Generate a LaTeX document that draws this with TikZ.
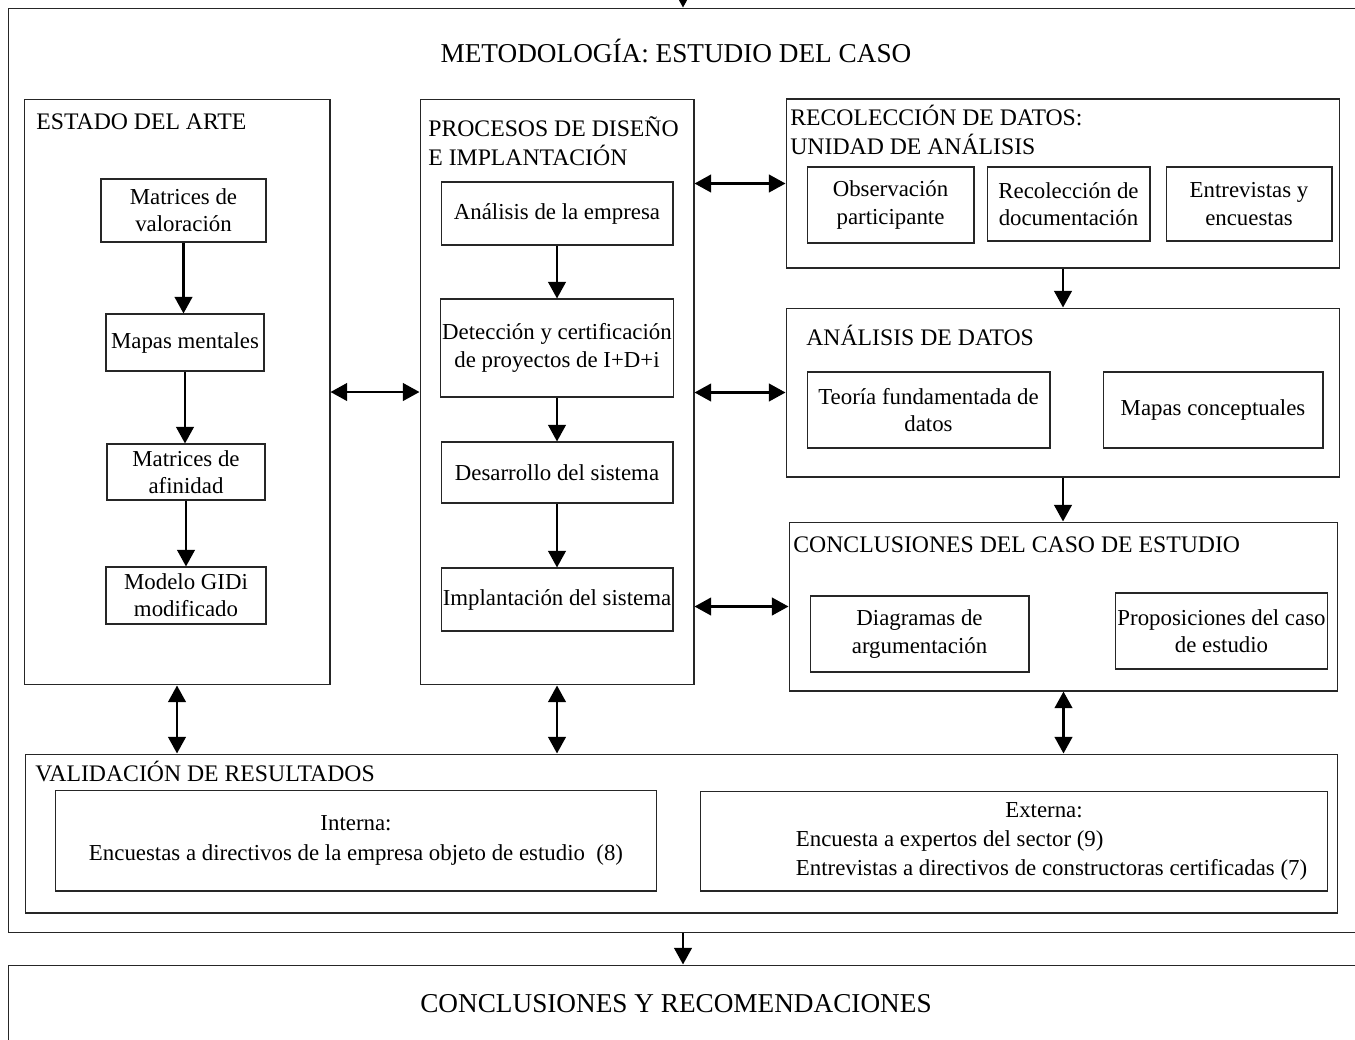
\documentclass[tikz,border=0pt]{standalone}
\usepackage{fontspec}
\setmainfont{Liberation Serif}
\usetikzlibrary{arrows.meta}
\newcommand{\cuerpo}{\fontsize{13pt}{15.5pt}\selectfont}
\newcommand{\titulo}{\fontsize{13.5pt}{16.5pt}\selectfont}
\newcommand{\titular}{\fontsize{15.5pt}{18pt}\selectfont}
\tikzset{
  caja/.style={draw=black!85, line width=0.6pt, inner sep=1pt, align=center, font=\cuerpo},
  bloque/.style={draw=black!85, line width=0.6pt, inner sep=0pt},
  rotulo/.style={inner sep=0pt, align=left, font=\titulo},
  flecha/.style={line width=1.5pt, -{Triangle[length=9.5pt,width=10pt]}},
  doble/.style={line width=1.5pt, {Triangle[length=9.5pt,width=10pt]}-{Triangle[length=9.5pt,width=10pt]}}
}

\begin{document}
\begin{tikzpicture}[x=0.02cm, y=-0.02cm]
  \clip (0,0) rectangle (1355,1039);
  % marcos grandes
  \node[bloque, minimum width=27.14cm, minimum height=18.5cm] (metodo) at (686.5,470.5) {};
  \node[bloque, minimum width=27.14cm, minimum height=1.52cm] (final) at (686.5,1003) {};
  \node[font=\titular, anchor=base] (tMetodo) at (676,62) {METODOLOGÍA: ESTUDIO DEL CASO};
  \node[font=\titular, anchor=base] (tFinal) at (676,1012) {CONCLUSIONES Y RECOMENDACIONES};
  \coordinate (entrada) at (683,-20);

  % bloques
  \node[bloque, minimum width=6.12cm, minimum height=11.72cm] (estado) at (177,392) {};
  \node[bloque, minimum width=5.48cm, minimum height=11.72cm] (procesos) at (557,392) {};
  \node[bloque, minimum width=11.08cm, minimum height=3.38cm] (recol) at (1063,183.5) {};
  \node[bloque, minimum width=11.08cm, minimum height=3.38cm] (anal) at (1063,392.5) {};
  \node[bloque, minimum width=10.98cm, minimum height=3.38cm] (concl) at (1063.5,606.5) {};
  \node[bloque, minimum width=26.26cm, minimum height=3.18cm] (valid) at (681.5,833.5) {};

  \node[rotulo, anchor=base west] (tEstado) at (36,129) {ESTADO DEL ARTE};
  \node[rotulo, anchor=north west] (tProcesos) at (428,116) {PROCESOS DE DISEÑO\\E IMPLANTACIÓN};
  \node[rotulo, anchor=north west] (tRecol) at (790,105) {RECOLECCIÓN DE DATOS:\\UNIDAD DE ANÁLISIS};
  \node[rotulo, anchor=base west] (tAnal) at (806,345) {ANÁLISIS DE DATOS};
  \node[rotulo, anchor=base west] (tConcl) at (793,552) {CONCLUSIONES DEL CASO DE ESTUDIO};
  \node[rotulo, anchor=base west] (tValid) at (35,781) {VALIDACIÓN DE RESULTADOS};

  % estado del arte
  \node[caja, minimum width=3.3cm, minimum height=1.26cm] (mval) at (183.5,210.5) {Matrices de\\valoración};
  \node[caja, minimum width=3.16cm, minimum height=1.14cm] (mmen) at (185,342.5) {Mapas mentales};
  \node[caja, minimum width=3.16cm, minimum height=1.12cm] (mafi) at (186,472) {Matrices de\\afinidad};
  \node[caja, minimum width=3.2cm, minimum height=1.14cm] (mgidi) at (186,595.5) {Modelo GIDi\\modificado};

  % procesos
  \node[caja, minimum width=4.64cm, minimum height=1.26cm] (aemp) at (557,213.5) {Análisis de la empresa};
  \node[caja, minimum width=4.64cm, minimum height=1.96cm] (detec) at (557,348) {Detección y certificación\\de proyectos de I+D+i};
  \node[caja, minimum width=4.64cm, minimum height=1.22cm] (desa) at (557,472.5) {Desarrollo del sistema};
  \node[caja, minimum width=4.64cm, minimum height=1.26cm] (impl) at (557,599.5) {Implantación del sistema};

  % recoleccion y analisis
  \node[caja, minimum width=3.34cm, minimum height=1.52cm] (obs) at (890.5,205) {Observación\\participante};
  \node[caja, minimum width=3.26cm, minimum height=1.48cm] (rdoc) at (1068.5,204) {Recolección de\\documentación};
  \node[caja, minimum width=3.32cm, minimum height=1.48cm] (entr) at (1249,204) {Entrevistas y\\encuestas};
  \node[caja, minimum width=4.86cm, minimum height=1.52cm] (teor) at (928.5,410) {Teoría fundamentada de\\datos};
  \node[caja, minimum width=4.4cm, minimum height=1.52cm] (mcon) at (1213,410) {Mapas conceptuales};
  \node[caja, minimum width=4.38cm, minimum height=1.52cm] (diag) at (919.5,634) {Diagramas de\\argumentación};
  \node[caja, minimum width=4.22cm, minimum height=1.52cm] (prop) at (1221.5,631) {Proposiciones del caso\\de estudio};

  % validacion
  \node[caja, minimum width=12.04cm, minimum height=2.02cm] (interna) at (356,840.5)
    {Interna:\\[2pt]Encuestas a directivos de la empresa objeto de estudio\ \ (8)};
  \node[caja, minimum width=12.56cm, minimum height=2cm] (externa) at (1014,841)
    {\begin{tabular}{@{\hspace{1.5cm}}l@{}}
      \multicolumn{1}{@{\hspace{1.2cm}}c@{}}{Externa:}\\[1pt]
      Encuesta a expertos del sector (9)\\[1pt]
      Entrevistas a directivos de constructoras certificadas (7)
    \end{tabular}};

  % conectores
  \draw[flecha] (entrada) -- (entrada |- metodo.north);
  \draw[flecha] (entrada |- metodo.south) -- (entrada |- final.north);
  \draw[flecha] (mval.south) -- (mval.south |- mmen.north);
  \draw[flecha] (mmen.south) -- (mmen.south |- mafi.north);
  \draw[flecha] (mafi.south) -- (mafi.south |- mgidi.north);
  \draw[flecha] (aemp) -- (detec);
  \draw[flecha] (detec) -- (desa);
  \draw[flecha] (desa) -- (impl);
  \draw[flecha] (recol) -- (anal);
  \draw[flecha] (anal.south) -- (anal.south |- concl.north);
  \draw[doble] (estado) -- (procesos);
  \draw[doble] (procesos.east |- recol.west) -- (recol.west);
  \draw[doble] (procesos.east |- anal.west) -- (anal.west);
  \draw[doble] (procesos.east |- concl.west) -- (concl.west);
  \draw[doble] (estado.south) -- (estado.south |- valid.north);
  \draw[doble] (procesos.south) -- (procesos.south |- valid.north);
  \draw[doble] (concl.south) -- (concl.south |- valid.north);
\end{tikzpicture}
\end{document}
